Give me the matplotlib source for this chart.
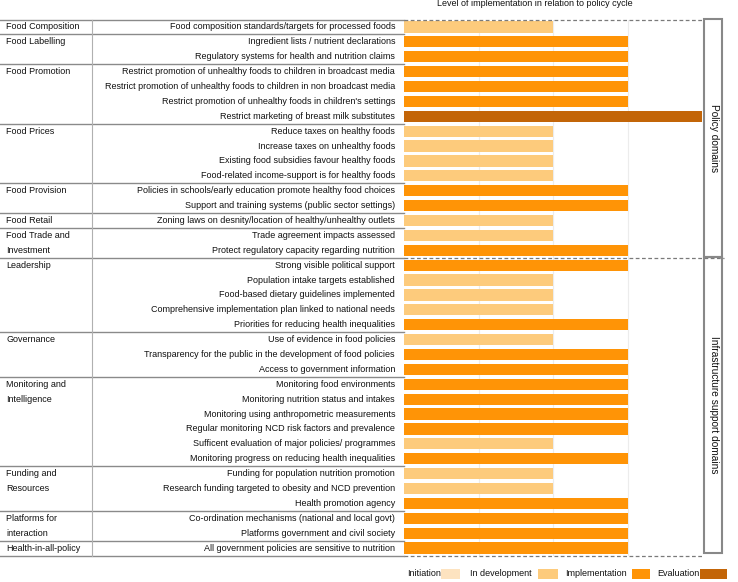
import matplotlib
matplotlib.use("Agg")
import matplotlib.pyplot as plt
import matplotlib.transforms as mtransforms
from matplotlib.patches import Rectangle

plt.rcParams['font.family'] = ['Liberation Sans', 'DejaVu Sans']

# ---------------- data ----------------
groups = ["Food Composition", "Food Labelling", "Food Promotion", "Food Prices",
          "Food Provision", "Food Retail", "Food Trade and\nInvestment", "Leadership",
          "Governance", "Monitoring and\nIntelligence", "Funding and\nResources",
          "Platforms for\ninteraction", "Health-in-all-policy"]
group_sizes = [1, 2, 4, 4, 2, 1, 2, 5, 3, 6, 3, 2, 1]

indicators = [
    "Food composition standards/targets for processed foods",
    "Ingredient lists / nutrient declarations",
    "Regulatory systems for health and nutrition claims",
    "Restrict promotion of unhealthy foods to children in broadcast media",
    "Restrict promotion of unhealthy foods to children in non broadcast media",
    "Restrict promotion of unhealthy foods in children's settings",
    "Restrict marketing of breast milk substitutes",
    "Reduce taxes on healthy foods",
    "Increase taxes on unhealthy foods",
    "Existing food subsidies favour healthy foods",
    "Food-related income-support is for healthy foods",
    "Policies in schools/early education promote healthy food choices",
    "Support and training systems (public sector settings)",
    "Zoning laws on desnity/location of healthy/unhealthy outlets",
    "Trade agreement impacts assessed",
    "Protect regulatory capacity regarding nutrition",
    "Strong visible political support",
    "Population intake targets established",
    "Food-based dietary guidelines implemented",
    "Comprehensive implementation plan linked to national needs",
    "Priorities for reducing health inequalities",
    "Use of evidence in food policies",
    "Transparency for the public in the development of food policies",
    "Access to government information",
    "Monitoring food environments",
    "Monitoring nutrition status and intakes",
    "Monitoring using anthropometric measurements",
    "Regular monitoring NCD risk factors and prevalence",
    "Sufficent evaluation of major policies/ programmes",
    "Monitoring progress on reducing health inequalities",
    "Funding for population nutrition promotion",
    "Research funding targeted to obesity and NCD prevention",
    "Health promotion agency",
    "Co-ordination mechanisms (national and local govt)",
    "Platforms government and civil society",
    "All government policies are sensitive to nutrition",
]
levels = [2, 3, 3, 3, 3, 3, 4, 2, 2, 2, 2, 3, 3, 2, 2, 3,
          3, 2, 2, 2, 3, 2, 3, 3, 3, 3, 3, 3, 2, 3, 2, 2, 3, 3, 3, 3]

level_names = ["Initiation", "In development", "Implementation", "Evaluation"]
level_colors = ["#FDE3C0", "#FDCB7C", "#FF9406", "#C36508"]

domains = ["Policy domains", "Infrastructure support domains"]
domain_sizes = [16, 20]

title = "Level of implementation in relation to policy cycle"

# ---------------- figure ----------------
W, H = 738, 582
fig = plt.figure(figsize=(W / 100, H / 100), dpi=100)
fig.patch.set_facecolor("white")

def fx(px):
    return px / W

def fy(py):
    return 1 - py / H

top_px, bot_px = 19.5, 555.5
left_px, right_px = 404, 702
ax = fig.add_axes([fx(left_px), fy(bot_px), fx(right_px - left_px), (bot_px - top_px) / H])
n = len(indicators)
ax.set_xlim(0, 4)
ax.set_ylim(n - 0.5, -0.5)
for s in ax.spines.values():
    s.set_visible(False)
ax.set_xticks([])
ax.set_yticks([])
for g in [1, 2, 3]:
    ax.axvline(g, color="#ececec", lw=0.8, zorder=0)

bar_colors = [level_colors[v - 1] for v in levels]
ax.barh(range(n), levels, height=0.76, color=bar_colors, zorder=2)

tr = mtransforms.blended_transform_factory(fig.transFigure, ax.transData)
fs = 6.5

# indicator labels
for i, lab in enumerate(indicators):
    ax.text(fx(395), i, lab, transform=tr, ha="right", va="center", fontsize=fs,
            color="#111111", clip_on=False)

# group labels and separators
line_c = "#8a8a8a"
start = 0
ax.plot([0, fx(left_px)], [-0.5, -0.5], transform=tr, color=line_c, lw=1.0, clip_on=False)
for gname, gs in zip(groups, group_sizes):
    for k, part in enumerate(gname.split("\n")):
        ax.text(fx(6), start + k, part, transform=tr, ha="left", va="center",
                fontsize=fs, color="#111111", clip_on=False)
    end = start + gs
    ax.plot([0, fx(left_px)], [end - 0.5, end - 0.5], transform=tr, color=line_c,
            lw=1.0, clip_on=False)
    start = end

# vertical divider between group names and indicator labels
ax.plot([fx(92), fx(92)], [-0.5, n - 0.5], transform=tr, color="#b0b0b0", lw=0.8,
        clip_on=False)

# dashed domain lines
dash_c = "#7a7a7a"
ax.plot([fx(left_px), fx(right_px)], [-0.5, -0.5], transform=tr, color=dash_c, lw=0.9,
        ls=(0, (3, 2)), clip_on=False, zorder=3)
ax.plot([fx(left_px), fx(right_px)], [n - 0.5, n - 0.5], transform=tr, color=dash_c,
        lw=0.9, ls=(0, (3, 2)), clip_on=False, zorder=1)
ax.plot([fx(left_px), fx(724)], [domain_sizes[0] - 0.5, domain_sizes[0] - 0.5], transform=tr,
        color=dash_c, lw=0.9, ls=(0, (3, 2)), clip_on=False, zorder=3)

# domain boxes
bx0, bx1 = 704, 722
box_tops = [19, 257]
box_bots = [257, 553]
for dname, t, b in zip(domains, box_tops, box_bots):
    fig.patches.append(Rectangle((fx(bx0), fy(b)), fx(bx1 - bx0), (b - t) / H,
                                 transform=fig.transFigure, fill=False,
                                 edgecolor="#888888", lw=1.5))
    fig.text(fx((bx0 + bx1) / 2 + 1), fy((t + b) / 2), dname, rotation=-90,
             ha="center", va="center", fontsize=7.3, color="#111111")

# title
fig.text(fx(535), fy(4), title, ha="center", va="center", fontsize=fs, color="#111111")

# legend (label followed by swatch)
leg_text_x = [407, 470, 565, 657]
leg_sw_x = [441, 538, 632, 700]
leg_sw_w = [19, 20, 18, 27]
leg_y = 574
for name, c, tx, sx, sw in zip(level_names, level_colors, leg_text_x, leg_sw_x, leg_sw_w):
    fig.text(fx(tx), fy(leg_y), name, ha="left", va="center", fontsize=fs, color="#111111")
    fig.patches.append(Rectangle((fx(sx), fy(leg_y + 5)), fx(sw), 10 / H,
                                 transform=fig.transFigure, facecolor=c, edgecolor="none"))

fig.savefig("out.png", dpi=100, facecolor="white")
